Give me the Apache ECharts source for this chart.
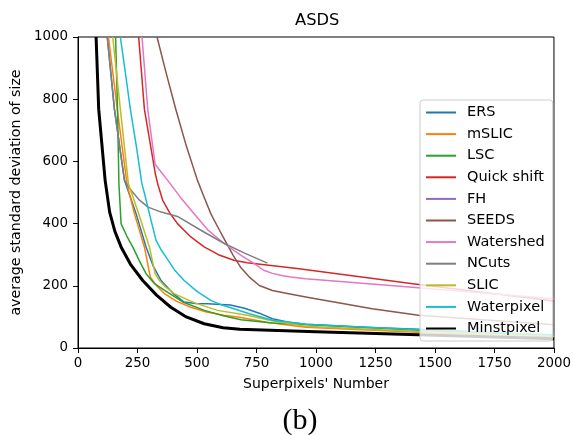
<!DOCTYPE html>
<html>
<head>
<meta charset="utf-8">
<script src="https://cdn.jsdelivr.net/npm/echarts@6/dist/echarts.min.js"></script>
<style>
  html, body { margin: 0; padding: 0; background: #fff; }
  #chart { width: 574px; height: 435px; }
</style>
</head>
<body>
<div id="chart"></div>
<script>
// values, [superpixels, asds]
var ers = [[123,1000],[153,768],[195,540],[244,432],[286,325],[315,265],[349,217],[400,175],[446,148],[495,143],[545,142],[640,138],[700,128],[762,112],[817,94],[880,84],[957,76],[1200,67],[1431,60],[2000,40]];
var mslic = [[128,1000],[165,768],[206,527],[237,432],[279,325],[304,228],[330,200],[363,175],[415,150],[474,131],[540,116],[614,105],[678,99],[800,82],[957,67],[1431,51],[2000,35]];
var lsc = [[158,1000],[166,768],[172,527],[181,400],[205,360],[230,325],[258,280],[286,239],[320,208],[364,185],[440,148],[531,121],[610,104],[685,91],[817,80],[1033,72],[1431,57],[2000,35]];
var quickShift = [[255,1000],[279,768],[325,560],[336,525],[356,475],[385,435],[418,400],[470,360],[530,325],[590,300],[655,282],[711,274],[929,255],[1431,204],[2000,151]];
var fh = [];
var seeds = [[332,1000],[372,880],[410,770],[455,650],[502,539],[530,485],[558,432],[590,385],[621,341],[652,298],[683,260],[720,228],[762,201],[817,185],[880,175],[957,164],[1100,145],[1236,126],[1431,105],[2000,75]];
var watershed = [[269,1000],[293,768],[324,591],[350,565],[377,539],[430,485],[488,432],[545,380],[614,336],[680,300],[741,271],[780,250],[817,240],[860,232],[894,228],[957,223],[1431,194],[2000,158]];
var ncuts = [[123,1000],[153,768],[195,540],[223,507],[255,478],[294,453],[350,437],[418,423],[520,377],[615,336],[700,305],[796,273]];
var slic = [[146,1000],[178,768],[212,527],[255,432],[300,325],[324,239],[342,217],[370,195],[404,175],[490,145],[586,121],[711,105],[830,85],[957,70],[1431,53],[2000,38]];
var waterpixel = [[178,1000],[200,880],[220,768],[245,650],[268,530],[285,480],[300,432],[328,346],[350,315],[370,292],[405,252],[446,217],[500,182],[558,153],[605,138],[655,126],[720,110],[817,89],[957,76],[1431,59],[2000,43]];
var minstpixel = [[76,1000],[87,768],[114,539],[133,437],[155,375],[181,325],[220,270],[272,217],[330,170],[390,131],[455,100],[530,78],[610,65],[680,60],[1000,52],[1430,43],[2000,30]];

var names = ['ERS', 'mSLIC', 'LSC', 'Quick shift', 'FH', 'SEEDS', 'Watershed', 'NCuts', 'SLIC', 'Waterpixel', 'Minstpixel'];
var values = [ers, mslic, lsc, quickShift, fh, seeds, watershed, ncuts, slic, waterpixel, minstpixel];
var colors = ['#1f77b4', '#ff7f0e', '#2ca02c', '#d62728', '#9467bd', '#8c564b', '#e377c2', '#7f7f7f', '#bcbd22', '#17becf', '#000000'];
var xTicks = [0, 2000, 250];
var yTicks = [0, 1000, 200];

var font = 'DejaVu Sans';
var chart = echarts.init(document.getElementById('chart'), null, { renderer: 'canvas' });

var series = names.map(function (n, i) {
    var w = n === 'Minstpixel' ? 3 : 1.5;
    return {
        name: n,
        type: 'line',
        data: values[i],
        symbol: 'none',
        smooth: false,
        clip: true,
        z: n === 'Minstpixel' ? 3 : 2,
        lineStyle: { color: colors[i], width: w, join: 'round' },
        itemStyle: { color: colors[i] }
    };
});

chart.setOption({
    animation: false,
    backgroundColor: '#fff',
    title: {
        text: 'ASDS',
        left: 290,
        top: 8,
        textStyle: { fontFamily: font, fontSize: 16.3, fontWeight: 'normal', color: '#000' }
    },
    grid: {
        left: 78, right: 18, top: 37, bottom: 87,
        show: true, borderColor: '#000', borderWidth: 1, backgroundColor: 'transparent'
    },
    legend: {
        orient: 'vertical',
        left: 420, top: 100,
        width: 129,
        data: names,
        itemWidth: 30, itemHeight: 14, itemGap: 6.6,
        padding: [5, 8, 5, 5],
        backgroundColor: 'rgba(255,255,255,0.8)',
        borderColor: '#cccccc', borderWidth: 1, borderRadius: 3,
        itemStyle: { color: 'rgba(0,0,0,0)', borderWidth: 0, opacity: 0 },
        textStyle: { fontFamily: font, fontSize: 14.5, color: '#000', lineHeight: 14, padding: [0, 0, 0, 6] }
    },
    xAxis: {
        type: 'value',
        min: xTicks[0], max: xTicks[1], interval: xTicks[2],
        name: "Superpixels' Number",
        nameLocation: 'middle', nameGap: 29,
        nameTextStyle: { fontFamily: font, fontSize: 14, color: '#000' },
        splitLine: { show: false },
        axisLine: { show: true, lineStyle: { color: '#000', width: 1 } },
        axisTick: { show: true, inside: false, length: 5, lineStyle: { color: '#000' } },
        axisLabel: { fontFamily: font, fontSize: 13.4, color: '#000', margin: 9, formatter: function (v) { return String(v); } }
    },
    yAxis: {
        type: 'value',
        min: yTicks[0], max: yTicks[1], interval: yTicks[2],
        name: 'average standard deviation of size',
        nameLocation: 'middle', nameGap: 52, nameRotate: 90,
        nameTextStyle: { fontFamily: font, fontSize: 14.2, color: '#000' },
        splitLine: { show: false },
        axisLine: { show: true, lineStyle: { color: '#000', width: 1 } },
        axisTick: { show: true, inside: false, length: 5, lineStyle: { color: '#000' } },
        axisLabel: { fontFamily: font, fontSize: 13.4, color: '#000', margin: 10, formatter: function (v) { return String(v); } }
    },
    graphic: [{
        type: 'text',
        x: 300, y: 421,
        style: {
            text: '(b)',
            fontFamily: 'Liberation Serif',
            fontSize: 30,
            fill: '#000',
            align: 'center',
            verticalAlign: 'middle'
        }
    }],
    series: series
});
</script>
</body>
</html>
